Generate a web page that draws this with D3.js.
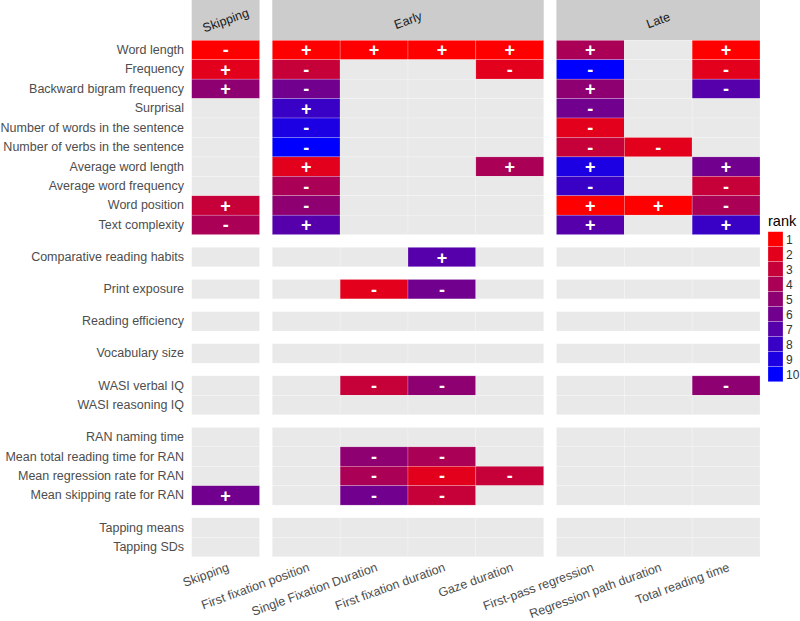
<!DOCTYPE html>
<html>
<head>
<meta charset="utf-8">
<script src="https://cdn.jsdelivr.net/npm/d3@7"></script>
<style>
  html, body { margin: 0; padding: 0; background: #ffffff; }
  svg { display: block; }
  text { font-family: "Liberation Sans", Arial, Helvetica, sans-serif; }
</style>
</head>
<body>
<svg id="chart" width="800" height="621"></svg>
<script>
// ---------------- data ----------------
const measures = ["Skipping", "First fixation position", "Single Fixation Duration",
  "First fixation duration", "Gaze duration", "First-pass regression",
  "Regression path duration", "Total reading time"];
const measureGroups = ["Skipping", "Early", "Early", "Early", "Early", "Late", "Late", "Late"];
const columnFacets = ["Skipping", "Early", "Late"];

const predictors = ["Word length", "Frequency", "Backward bigram frequency", "Surprisal",
  "Number of words in the sentence", "Number of verbs in the sentence", "Average word length",
  "Average word frequency", "Word position", "Text complexity",
  "Comparative reading habits", "Print exposure", "Reading efficiency", "Vocabulary size",
  "WASI verbal IQ", "WASI reasoning IQ",
  "RAN naming time", "Mean total reading time for RAN", "Mean regression rate for RAN",
  "Mean skipping rate for RAN", "Tapping means", "Tapping SDs"];
const predictorGroups = [1,1,1,1,1,1,1,1,1,1, 2, 3, 4, 5, 6,6, 7,7,7,7, 8,8];
const rowFacets = [1,2,3,4,5,6,7,8];

// rank per predictor (null = not selected), one array per measure
const rankSkipping = [1,2,5,null,null,null,null,null,3,4, null,null,null,null,null,null, null,null,null,6, null,null];
const signSkipping = ["-","+","+","","","","","","+","-", "","","","","","", "","","","+", "",""];
const rankFFP = [1,3,6,8,9,10,2,4,5,7, null,null,null,null,null,null, null,null,null,null, null,null];
const signFFP = ["+","-","-","+","-","-","+","-","-","+", "","","","","","", "","","","", "",""];
const rankSFD = [1,null,null,null,null,null,null,null,null,null, null,2,null,null,3,null, null,5,4,6, null,null];
const signSFD = ["+","","","","","","","","","", "","-","","","-","", "","-","-","-", "",""];
const rankFFD = [1,null,null,null,null,null,null,null,null,null, 7,6,null,null,5,null, null,4,2,3, null,null];
const signFFD = ["+","","","","","","","","","", "+","-","","","-","", "","-","-","-", "",""];
const rankGD = [1,2,null,null,null,null,4,null,null,null, null,null,null,null,null,null, null,null,3,null, null,null];
const signGD = ["+","-","","","","","+","","","", "","","","","","", "","","-","", "",""];
const rankFPR = [4,10,5,6,2,3,9,8,1,7, null,null,null,null,null,null, null,null,null,null, null,null];
const signFPR = ["+","-","+","-","-","-","+","-","+","+", "","","","","","", "","","","", "",""];
const rankRPD = [null,null,null,null,null,2,null,null,1,null, null,null,null,null,null,null, null,null,null,null, null,null];
const signRPD = ["","","","","","-","","","+","", "","","","","","", "","","","", "",""];
const rankTRT = [1,2,7,null,null,null,6,3,4,8, null,null,null,null,5,null, null,null,null,null, null,null];
const signTRT = ["+","-","-","","","","+","-","-","+", "","","","","-","", "","","","", "",""];

const rankTicks = [1,2,3,4,5,6,7,8,9,10];

const rankByMeasure = [rankSkipping, rankFFP, rankSFD, rankFFD, rankGD, rankFPR, rankRPD, rankTRT];
const signByMeasure = [signSkipping, signFFP, signSFD, signFFD, signGD, signFPR, signRPD, signTRT];

// ---------------- layout ----------------
const svg = d3.select("#chart");
const plotLeft = 191.7, plotRight = 760, plotTop = 40.3, plotBottom = 556.7;
const gap = 12.7;
const stripTop = 0;

// column facets (free space: width proportional to number of columns)
const colCount = columnFacets.map(f => measureGroups.filter(g => g === f).length);
const unitW = (plotRight - plotLeft - gap * (columnFacets.length - 1)) / measures.length;
const colFacetScales = {};
let cx = plotLeft;
columnFacets.forEach((f, i) => {
  const w = unitW * colCount[i];
  colFacetScales[f] = d3.scaleBand()
    .domain(measures.filter((m, j) => measureGroups[j] === f))
    .range([cx, cx + w]).paddingInner(0).paddingOuter(0);
  cx += w + gap;
});

const rowCount = rowFacets.map(f => predictorGroups.filter(g => g === f).length);
const unitH = (plotBottom - plotTop - gap * (rowFacets.length - 1)) / predictors.length;
const rowFacetScales = {};
let cy = plotTop;
rowFacets.forEach((f, i) => {
  const h = unitH * rowCount[i];
  rowFacetScales[f] = d3.scaleBand()
    .domain(predictors.filter((p, j) => predictorGroups[j] === f))
    .range([cy, cy + h]).paddingInner(0).paddingOuter(0);
  cy += h + gap;
});

const xPos = (mi) => colFacetScales[measureGroups[mi]](measures[mi]);
const xBw = (mi) => colFacetScales[measureGroups[mi]].bandwidth();
const yPos = (pi) => rowFacetScales[predictorGroups[pi]](predictors[pi]);
const yBw = (pi) => rowFacetScales[predictorGroups[pi]].bandwidth();

const colorScale = d3.scaleLinear().domain([1, 10]).range(["#ff0000", "#0000ff"])
  .interpolate(d3.interpolateRgb);

// ---------------- strips ----------------
const strips = svg.append("g");
columnFacets.forEach(f => {
  const r = colFacetScales[f].range();
  strips.append("rect").attr("x", r[0]).attr("y", stripTop)
    .attr("width", r[1] - r[0]).attr("height", plotTop - stripTop)
    .attr("fill", "#cccccc");
  const mx = (r[0] + r[1]) / 2, my = (stripTop + plotTop) / 2;
  strips.append("text")
    .attr("transform", `translate(${mx},${my}) rotate(-20)`)
    .attr("text-anchor", "middle").attr("dy", "0.35em")
    .attr("font-size", 12.5).attr("fill", "#1a1a1a").text(f);
});

// ---------------- tiles ----------------
const cells = [];
measures.forEach((m, mi) => {
  predictors.forEach((p, pi) => {
    cells.push({ mi, pi, rank: rankByMeasure[mi][pi], sign: signByMeasure[mi][pi] });
  });
});

const tiles = svg.append("g");
tiles.selectAll("rect").data(cells).join("rect")
  .attr("x", d => xPos(d.mi)).attr("y", d => yPos(d.pi))
  .attr("width", d => xBw(d.mi)).attr("height", d => yBw(d.pi))
  .attr("fill", d => d.rank == null ? "#e9e9e9" : colorScale(d.rank))
  .attr("stroke", "#ffffff").attr("stroke-width", 0.5).attr("stroke-opacity", 0.45);

tiles.selectAll("text").data(cells.filter(d => d.rank != null)).join("text")
  .attr("x", d => xPos(d.mi) + xBw(d.mi) / 2)
  .attr("y", d => yPos(d.pi) + yBw(d.pi) / 2)
  .attr("dy", "0.36em").attr("text-anchor", "middle")
  .attr("font-size", 18).attr("font-weight", "bold").attr("fill", "#ffffff")
  .text(d => d.sign);

// ---------------- axes ----------------
const yAxisG = svg.append("g");
rowFacets.forEach(f => {
  const g = yAxisG.append("g").attr("transform", `translate(${plotLeft},0)`)
    .call(d3.axisLeft(rowFacetScales[f]).tickSize(0).tickPadding(7.7));
  g.select(".domain").remove();
  g.selectAll("text").attr("font-size", 12.5).attr("fill", "#4d4d4d")
    .attr("font-family", '"Liberation Sans", Arial, sans-serif');
});

const xAxisG = svg.append("g");
columnFacets.forEach(f => {
  const g = xAxisG.append("g").attr("transform", `translate(0,${plotBottom})`)
    .call(d3.axisBottom(colFacetScales[f]).tickSize(0).tickPadding(0));
  g.select(".domain").remove();
  g.selectAll(".tick text")
    .attr("y", 0)
    .attr("transform", "translate(1,5) rotate(-20)")
    .attr("text-anchor", "end")
    .attr("dy", "0.75em")
    .attr("font-size", 12.5).attr("fill", "#4d4d4d")
    .attr("font-family", '"Liberation Sans", Arial, sans-serif');
});

// ---------------- legend ----------------
const legend = svg.append("g").attr("transform", "translate(768,0)");
legend.append("text").attr("x", 0).attr("y", 226).attr("font-size", 14.5)
  .attr("fill", "#000").text("rank");
const keyH = 15, keyW = 15, keyTop = 231.7;
const keyScale = d3.scaleBand().domain(rankTicks).range([keyTop, keyTop + keyH * rankTicks.length]);
legend.selectAll("rect.key").data(rankTicks).join("rect").attr("class", "key")
  .attr("x", 0).attr("y", d => keyScale(d)).attr("width", keyW).attr("height", keyScale.bandwidth())
  .attr("fill", d => colorScale(d)).attr("stroke", "#ffffff").attr("stroke-width", 0.5).attr("stroke-opacity", 0.45);
legend.selectAll("text.lab").data(rankTicks).join("text").attr("class", "lab")
  .attr("x", keyW + 3).attr("y", d => keyScale(d) + keyScale.bandwidth() / 2)
  .attr("dy", "0.36em").attr("font-size", 12).attr("fill", "#333333").text(d => d);
</script>
</body>
</html>
